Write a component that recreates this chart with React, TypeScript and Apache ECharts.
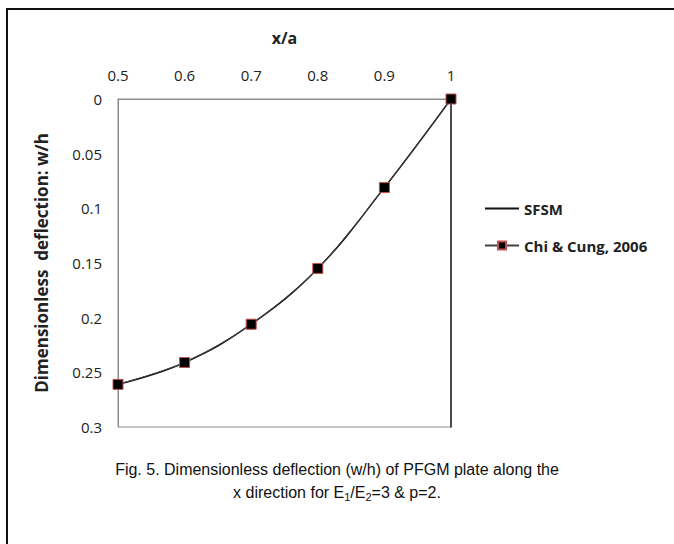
import React, { useEffect, useRef } from "react";
import * as echarts from "echarts";

const xValues = [0.5, 0.6, 0.7, 0.8, 0.9, 1];
const sfsm = [0.261, 0.241, 0.206, 0.155, 0.081, 0];
const chiCung = [0.261, 0.241, 0.206, 0.155, 0.081, 0];
const seriesNames = ["SFSM", "Chi & Cung, 2006"];

export default function App() {
  const ref = useRef<HTMLDivElement>(null);
  useEffect(() => {
    if (!ref.current) return;
    const chart = echarts.init(ref.current, null, { renderer: "svg" });
    const font = "'Open Sans', 'Noto Sans', sans-serif";
    chart.setOption({
      animation: false,
      backgroundColor: "#fff",
      grid: {
        left: 118,
        right: 223,
        top: 99,
        bottom: 117,
        show: true,
        borderColor: "#8c8c8c",
        borderWidth: 1,
      },
      legend: {
        orient: "vertical",
        left: 479,
        top: 196,
        itemGap: 22,
        itemWidth: 34,
        itemHeight: 10,
        textStyle: { fontFamily: font, fontSize: 15, fontWeight: "bold", color: "#222" },
        data: [
          { name: seriesNames[0], itemStyle: { opacity: 0 } },
          { name: seriesNames[1] },
        ],
      },
      xAxis: {
        type: "value",
        position: "top",
        min: 0.5,
        max: 1,
        interval: 0.1,
        name: "x/a",
        nameLocation: "middle",
        nameGap: 53,
        nameTextStyle: { fontFamily: font, fontSize: 16, fontWeight: "bold", color: "#222" },
        axisLine: { show: true, lineStyle: { color: "#8c8c8c" } },
        axisTick: { show: false },
        splitLine: { show: false },
        axisLabel: {
          fontFamily: font,
          fontSize: 15,
          color: "#222",
          margin: 17,
          formatter: (v: number) => String(Math.round(v * 10) / 10),
        },
      },
      yAxis: [
        {
          type: "value",
          inverse: true,
          min: 0,
          max: 0.3,
          interval: 0.05,
          name: "Dimensionless  deflection: w/h",
          nameLocation: "middle",
          nameGap: 68,
          nameTextStyle: { fontFamily: font, fontSize: 17, fontWeight: "bold", color: "#222" },
          axisLine: { show: true, lineStyle: { color: "#8c8c8c" } },
          axisTick: { show: false },
          splitLine: { show: false },
          axisLabel: {
            fontFamily: font,
            fontSize: 15,
            color: "#222",
            margin: 16,
            formatter: (v: number) => String(Math.round(v * 100) / 100),
          },
        },
        {
          type: "value",
          position: "right",
          inverse: true,
          min: 0,
          max: 0.3,
          interval: 0.05,
          axisLine: { show: true, onZero: false, lineStyle: { color: "#222", width: 1.5 } },
          axisTick: { show: false },
          axisLabel: { show: false },
          splitLine: { show: false },
        },
      ],
      series: [
        {
          name: seriesNames[0],
          type: "line",
          smooth: 0.4,
          symbol: "none",
          data: xValues.map((x, i) => [x, sfsm[i]]),
          lineStyle: { color: "#111", width: 1.5 },
          itemStyle: { color: "#111" },
          z: 2,
        },
        {
          name: seriesNames[1],
          type: "line",
          smooth: 0.3,
          symbol: "rect",
          symbolSize: 10,
          data: xValues.map((x, i) => [x, chiCung[i]]),
          lineStyle: { color: "#444", width: 1 },
          itemStyle: { color: "#000", borderColor: "#c0504d", borderWidth: 1 },
          z: 3,
        },
      ],
      graphic: [
        {
          type: "rect",
          shape: { x: 7, y: 9, width: 800, height: 800 },
          style: { fill: "none", stroke: "#111", lineWidth: 2 },
          silent: true,
        },
        {
          type: "text",
          x: 337,
          y: 461,
          style: {
            text: "Fig. 5. Dimensionless deflection (w/h) of PFGM plate along the",
            fontFamily: "'Liberation Sans', Arial, sans-serif",
            fontSize: 16,
            fill: "#111",
            align: "center",
          },
        },
        {
          type: "text",
          x: 337,
          y: 483,
          style: {
            text: "x direction for E{s|1}/E{s|2}=3 & p=2.",
            fontFamily: "'Liberation Sans', Arial, sans-serif",
            fontSize: 16,
            fill: "#111",
            align: "center",
            rich: {
              s: {
                fontFamily: "'Liberation Sans', Arial, sans-serif",
                fontSize: 11,
                fill: "#111",
                verticalAlign: "bottom",
                padding: [8, 0, 0, 0],
              },
            },
          },
        },
      ],
    });
    return () => chart.dispose();
  }, []);
  return (
    <div
      ref={ref}
      style={{ position: "fixed", left: 0, top: 0, width: 674, height: 544 }}
    />
  );
}
